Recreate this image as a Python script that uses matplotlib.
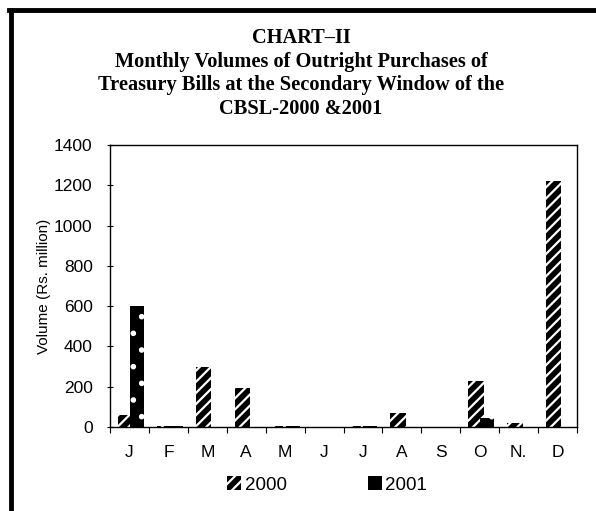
import matplotlib
matplotlib.use("Agg")
import matplotlib.pyplot as plt
import numpy as np
from matplotlib.patches import Patch
from matplotlib.lines import Line2D

months = ["J", "F", "M", "A", "M", "J", "J", "A", "S", "O", "N.", "D"]
vol_2000 = [60, 4, 300, 195, 3, 2, 3, 70, 2, 228, 20, 1222]
vol_2001 = [600, 3, 0, 0, 5, 2, 6, 0, 2, 45, 0, 0]
yticks = [0, 200, 400, 600, 800, 1000, 1200, 1400]

title_lines = ["CHART\u2013II",
               "Monthly Volumes of Outright Purchases of",
               "Treasury Bills at the Secondary Window of the",
               "CBSL-2000 &2001"]
title_y = [0.9256, 0.8787, 0.8337, 0.7867]

plt.rcParams["font.family"] = ["Liberation Sans", "DejaVu Sans"]
plt.rcParams["hatch.linewidth"] = 1.6

fig = plt.figure(figsize=(5.96, 5.11), dpi=100)
ax = fig.add_axes([0.1846, 0.1644, 0.7836, 0.5518])

x = np.arange(len(months))
w0, w1 = 0.40, 0.36
off0, off1 = -0.10, 0.19

ax.bar(x + off0, vol_2000, width=w0, color="black", edgecolor="white",
       linewidth=0, hatch="///", zorder=2)
ax.bar(x + off1, vol_2001, width=w1, color="black", edgecolor="white",
       linewidth=0, hatch=".", zorder=3)

ax.set_xlim(-0.5, 11.5)
ax.set_ylim(0, 1400)
ax.set_yticks(yticks)
ax.set_yticklabels([str(v) for v in yticks], fontsize=12.5)
ax.set_xticks(np.arange(-0.5, 12, 1))
ax.set_xticklabels([])
ax.set_xticks(x, minor=True)
ax.set_xticklabels(months, minor=True, fontsize=12.5)
ax.tick_params(axis="x", which="major", direction="out", length=4, width=0.8)
ax.tick_params(axis="x", which="minor", length=0, pad=13)
ax.tick_params(axis="y", direction="inout", length=5, width=0.8, pad=10)
for s in ax.spines.values():
    s.set_linewidth(1.0)

ax.set_ylabel("Volume (Rs. million)", fontsize=11, labelpad=2)

for line, yy in zip(title_lines, title_y):
    fig.text(0.505, yy, line, ha="center", va="center",
             fontsize=14.7, fontweight="bold", family="Liberation Serif")

handles = [Patch(facecolor="black", edgecolor="white", hatch="///", linewidth=0),
           Patch(facecolor="black", edgecolor="black", linewidth=0)]
fig.legend(handles, ["2000", "2001"], loc="center", bbox_to_anchor=(0.549, 0.051),
           ncol=2, frameon=False, fontsize=13.5, handlelength=0.75,
           handleheight=0.75, handletextpad=0.2, columnspacing=4.3)

# outer frame (left and top edges)
fig.add_artist(Line2D([0.018, 0.018], [0.0, 0.981], color="black", lw=3.5,
                      transform=fig.transFigure))
fig.add_artist(Line2D([0.015, 1.0], [0.981, 0.981], color="black", lw=3.5,
                      transform=fig.transFigure))

fig.savefig("out.png", dpi=100)
